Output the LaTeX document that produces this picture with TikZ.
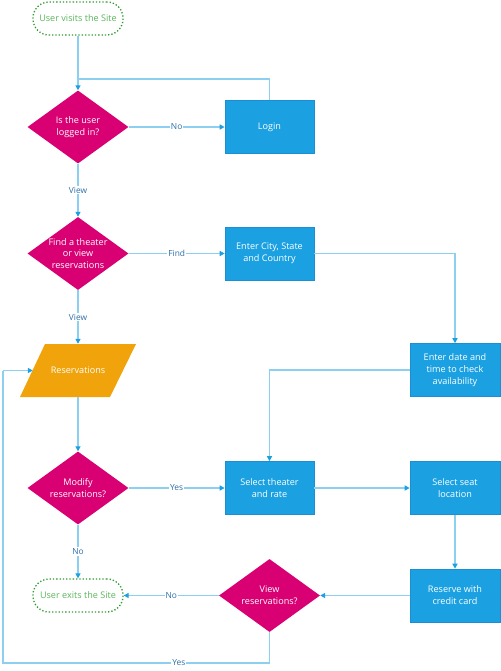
\documentclass[tikz,border=0pt]{standalone}
\usepackage{fontspec}
\setmainfont{Open Sans}
\usetikzlibrary{shapes.geometric,arrows.meta}
\definecolor{mag}{HTML}{D80073}
\definecolor{boxblue}{HTML}{1BA1E2}
\definecolor{boxedge}{HTML}{1A8FD6}
\definecolor{orng}{HTML}{F0A30A}
\definecolor{grn}{HTML}{2E9A2E}
\definecolor{grntxt}{HTML}{5DB55D}
\definecolor{linec}{HTML}{8CCFF0}
\definecolor{tipc}{HTML}{1BA1E2}
\definecolor{labc}{HTML}{2F6FA8}
\tikzset{
  x=1pt, y=-1pt,
  font=\fontsize{9.1}{12}\selectfont,
  term/.style={rectangle, rounded corners=16pt, draw=grn, dotted, line width=1.3pt,
    minimum width=90pt, minimum height=33pt, text=grntxt, inner sep=0pt},
  dec/.style={diamond, fill=mag, minimum width=101pt, minimum height=73pt, inner sep=0pt},
  dectext/.style={label={[text=white, align=center, font=\fontsize{9.1}{11.8}\selectfont]center:#1}},
  proc/.style={rectangle, fill=boxblue, draw=boxedge, line width=0.6pt, minimum width=89pt,
    minimum height=53pt, text=white, align=center, inner sep=0pt},
  anch/.style={rectangle, minimum width=90pt, minimum height=53pt, inner sep=0pt, text=white},
  conn/.style={draw=linec, line width=1.3pt},
  arr/.style={conn, -{Triangle[length=5pt,width=5pt,color=tipc]}},
  lab/.style={fill=white, text=labc, inner sep=1pt, font=\fontsize{8.4}{9}\selectfont}
}
\begin{document}
\begin{tikzpicture}
\useasboundingbox (0,0) rectangle (500,671);
\fill[white] (0,0) rectangle (500,671);
% nodes
\node[term] (start) at (78,18.5) {User visits the Site};
\node[dec, dectext={Is the user\\logged in?}] (d1) at (78,127) {};
\node[proc] (login) at (269.5,127) {Login};
\node[dec, dectext={Find a theater\\or view\\reservations}] (d2) at (78,253.5) {};
\node[proc] (city) at (269.5,253.5) {Enter City, State\\and Country};
\node[proc, minimum width=90pt] (date) at (455,370) {Enter date and\\time to check\\availability};
% parallelogram
\fill[orng] (45,344) -- (136,344) -- (110,397) -- (20,397) -- cycle;
\node[anch] (res) at (78,370.5) {Reservations};
\node[dec, dectext={Modify\\reservations?}] (d3) at (78,488) {};
\node[proc] (theater) at (269.5,488) {Select theater\\and rate};
\node[proc, minimum width=90pt] (seat) at (455,488) {Select seat\\location};
\node[proc, minimum width=90pt] (reserve) at (455,595.5) {Reserve with\\credit card};
\node[dec, dectext={View\\reservations?}] (d4) at (269.5,595.5) {};
\node[term] (exits) at (78,595.5) {User exits the Site};
% helper coordinates
\coordinate (join) at (78,79);
\coordinate (yb) at (269.5,663);
\coordinate (yl) at (3,663);
\coordinate (yt) at (3,370.5);
% connectors
\draw[arr] (start.south) -- (d1.north);
\draw[conn] (login.north) |- (join);
\draw[arr] (d1.east) -- node[lab]{No} (login.west);
\draw[arr] (d1.south) -- node[lab]{View} (d2.north);
\draw[arr] (d2.east) -- node[lab]{Find} (city.west);
\draw[arr] (city.east) -| (date.north);
\draw[arr] (d2.south) -- node[lab]{View} (res.north);
\draw[arr] (date.west) -| (theater.north);
\draw[arr] (res.south) -- (d3.north);
\draw[arr] (d3.east) -- node[lab]{Yes} (theater.west);
\draw[arr] (theater.east) -- (seat.west);
\draw[arr] (seat.south) -- (reserve.north);
\draw[arr] (reserve.west) -- (d4.east);
\draw[arr] (d4.west) -- node[lab]{No} (exits.east);
\draw[arr] (d3.south) -- node[lab]{No} (exits.north);
\draw[conn] (d4.south) -- (yb) -- node[lab, pos=0.34]{Yes} (yl) -- (yt);
\draw[arr] (yt) -- (res.west);
\end{tikzpicture}
\end{document}
